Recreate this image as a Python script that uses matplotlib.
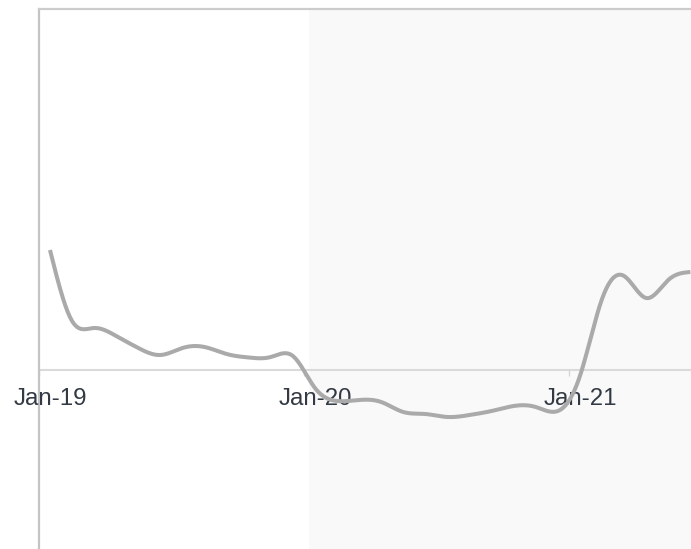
import numpy as np
import matplotlib
matplotlib.use("Agg")
import matplotlib.pyplot as plt

# ---- data (monthly, Jan-19 .. Jun-21) ----
months = ["Jan-19", "Feb-19", "Mar-19", "Apr-19", "May-19", "Jun-19", "Jul-19", "Aug-19",
          "Sep-19", "Oct-19", "Nov-19", "Dec-19", "Jan-20", "Feb-20", "Mar-20", "Apr-20",
          "May-20", "Jun-20", "Jul-20", "Aug-20", "Sep-20", "Oct-20", "Nov-20", "Dec-20",
          "Jan-21", "Feb-21", "Mar-21", "Apr-21", "May-21", "Jun-21"]
values = [1.20, 0.49, 0.42, 0.34, 0.22, 0.15, 0.22, 0.23, 0.16, 0.125, 0.13, 0.14,
          -0.18, -0.31, -0.30, -0.32, -0.42, -0.44, -0.47, -0.45, -0.41, -0.36, -0.37, -0.41,
          -0.06, 0.71, 0.94, 0.72, 0.90, 0.98]
tick_labels = ["Jan-19", "Jan-20", "Jan-21"]
shade_start = 11.73  # position where the shaded period begins


def natural_spline(x, y, n=20):
    x = np.asarray(x, float)
    y = np.asarray(y, float)
    N = len(x)
    h = np.diff(x)
    A = np.zeros((N, N))
    b = np.zeros(N)
    A[0, 0] = 1
    A[-1, -1] = 1
    for i in range(1, N - 1):
        A[i, i - 1] = h[i - 1]
        A[i, i] = 2 * (h[i - 1] + h[i])
        A[i, i + 1] = h[i]
        b[i] = 3 * ((y[i + 1] - y[i]) / h[i] - (y[i] - y[i - 1]) / h[i - 1])
    c = np.linalg.solve(A, b)
    xs, ys = [], []
    for i in range(N - 1):
        bb = (y[i + 1] - y[i]) / h[i] - h[i] * (2 * c[i] + c[i + 1]) / 3
        d = (c[i + 1] - c[i]) / (3 * h[i])
        t = np.linspace(0, h[i], n, endpoint=False)
        xs.append(x[i] + t)
        ys.append(y[i] + bb * t + c[i] * t ** 2 + d * t ** 3)
    xs.append([x[-1]])
    ys.append([y[-1]])
    return np.concatenate(xs), np.concatenate(ys)


W, H = 691, 549
fig = plt.figure(figsize=(W / 100, H / 100), dpi=100)
fig.patch.set_facecolor("white")
ax = fig.add_axes([38.5 / W, 0, 1 - 38.5 / W, 1 - 9 / H])
ax.set_facecolor("white")

xi = np.arange(len(values))
ax.set_xlim(-0.52, 29.03)
ax.set_ylim(-1.79, 3.61)

ax.axvspan(shade_start, 29.03, color="#f9f9f9", zorder=0, lw=0)
ax.axhline(0, color="#dadada", lw=1.5, zorder=1)

sx, sy = natural_spline(xi, values)
ax.plot(sx, sy, color="#aaaaaa", lw=2.9, solid_capstyle="butt", zorder=5)

# ticks at year boundaries, labels centered at January band
for k, lab in enumerate(tick_labels):
    pos = 12 * k
    ax.vlines(pos - 0.5, -0.06, 0, color="#d6d6d6", lw=1, zorder=1)
    ax.annotate(lab, xy=(pos, 0), xytext=(0, -25.3), textcoords="offset points",
                ha="center", va="baseline", fontsize=17.3, color="#333a44",
                family="Liberation Sans", zorder=4)

ax.set_xticks([])
ax.set_yticks([])
for s in ["right", "bottom"]:
    ax.spines[s].set_visible(False)
ax.spines["left"].set_color("#c4c4c4")
ax.spines["left"].set_linewidth(1.6)
ax.spines["top"].set_color("#cccccc")
ax.spines["top"].set_linewidth(1.6)

fig.savefig("out.png", dpi=100)
